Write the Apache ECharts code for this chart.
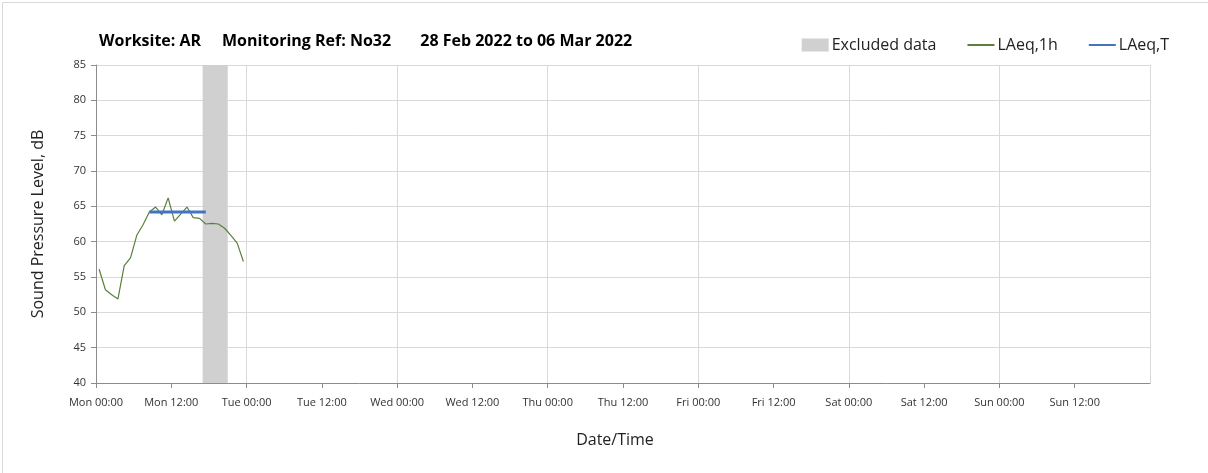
<!DOCTYPE html>
<html>
<head>
<meta charset="utf-8">
<script src="https://cdn.jsdelivr.net/npm/echarts@6/dist/echarts.min.js"></script>
<style>
  html, body { margin: 0; padding: 0; background: #fff; }
  #chart { width: 1208px; height: 473px; }
</style>
</head>
<body>
<div id="chart"></div>
<script>
// hours from Mon 00:00, hourly values plotted at the middle of each hour
var hours = [0.5, 1.5, 2.5, 3.5, 4.5, 5.5, 6.5, 7.5, 8.5, 9.5, 10.5, 11.5,
             12.5, 13.5, 14.5, 15.5, 16.5, 17.5, 18.5, 19.5, 20.5, 21.5, 22.5, 23.5];
var laeq1h = [56.1, 53.2, 52.5, 51.9, 56.6, 57.7, 60.9, 62.4, 64.2, 64.9, 63.8, 66.2,
              62.9, 63.9, 64.9, 63.4, 63.3, 62.5, 62.6, 62.5, 61.9, 60.9, 59.8, 57.2];
// LAeq,T over the period
var laeqTStart = 8.5;
var laeqTEnd = 17.5;
var laeqT = 64.2;
// excluded data period (hours)
var excludedStart = 17;
var excludedEnd = 21;
var dayNames = ['Mon', 'Tue', 'Wed', 'Thu', 'Fri', 'Sat', 'Sun'];

var font = '"Open Sans", Lato, sans-serif';

var chart = echarts.init(document.getElementById('chart'));

var option = {
    animation: false,
    textStyle: { fontFamily: font },
    title: {
        text: 'Worksite: AR     Monitoring Ref: No32       28 Feb 2022 to 06 Mar 2022',
        left: 94,
        top: 28,
        textStyle: { fontSize: 16, fontWeight: 'bold', color: '#000', fontFamily: font }
    },
    legend: {
        right: 34,
        top: 32,
        itemWidth: 27,
        itemHeight: 13,
        itemGap: 30,
        textStyle: { fontSize: 16, color: '#222', fontFamily: font, padding: [0, 0, 0, -2] },
        data: [
            { name: 'Excluded data', icon: 'rect' },
            { name: 'LAeq,1h', itemStyle: { opacity: 0 } },
            { name: 'LAeq,T', itemStyle: { opacity: 0 } }
        ]
    },
    graphic: [{
        type: 'rect',
        left: 0, top: 0,
        shape: { width: 1207, height: 472 },
        style: { fill: 'none', stroke: '#d9d9d9', lineWidth: 1 },
        silent: true
    }],
    grid: { left: 96, right: 58, top: 65, bottom: 90 },
    xAxis: [{
        type: 'value',
        min: 0,
        max: 168,
        interval: 12,
        name: 'Date/Time',
        nameLocation: 'middle',
        nameGap: 49,
        nameTextStyle: { fontSize: 16, color: '#222', padding: [0, 16, 0, 0] },
        axisLine: { lineStyle: { color: '#8c8c8c' } },
        axisTick: { show: true, length: 5, lineStyle: { color: '#8c8c8c' } },
        splitLine: { show: false },
        axisLabel: {
            fontSize: 11,
            color: '#333',
            margin: 14,
            showMaxLabel: false,
            formatter: function (v) {
                if (v >= 168) return '';
                var d = dayNames[Math.floor(v / 24)];
                return d + ' ' + (v % 24 === 0 ? '00:00' : '12:00');
            }
        }
    }, {
        type: 'value',
        min: 0,
        max: 168,
        interval: 24,
        position: 'bottom',
        axisLine: { show: false },
        axisTick: { show: false },
        axisLabel: { show: false },
        splitLine: { show: true, lineStyle: { color: '#d9d9d9', width: 1 } }
    }],
    yAxis: {
        type: 'value',
        min: 40,
        max: 85,
        interval: 5,
        name: 'Sound Pressure Level, dB',
        nameLocation: 'middle',
        nameGap: 50,
        nameTextStyle: { fontSize: 16, color: '#222' },
        axisLine: { show: true, lineStyle: { color: '#8c8c8c' } },
        axisTick: { show: true, length: 5, lineStyle: { color: '#8c8c8c' } },
        axisLabel: { fontSize: 11, color: '#333', margin: 10 },
        splitLine: { lineStyle: { color: '#d9d9d9', width: 1 } }
    },
    series: [{
        name: 'Excluded data',
        type: 'line',
        data: [],
        itemStyle: { color: '#d0d0d0' },
        markArea: {
            silent: true,
            itemStyle: { color: '#d0d0d0' },
            data: [[{ xAxis: excludedStart }, { xAxis: excludedEnd }]]
        }
    }, {
        name: 'LAeq,1h',
        type: 'line',
        symbol: 'none',
        z: 3,
        lineStyle: { color: '#5b7f3c', width: 1.2 },
        itemStyle: { color: '#5b7f3c' },
        data: hours.map(function (h, i) { return [h, laeq1h[i]]; })
    }, {
        name: 'LAeq,T',
        type: 'line',
        symbol: 'none',
        z: 4,
        lineStyle: { color: '#4472c4', width: 3 },
        itemStyle: { color: '#4472c4' },
        data: [[laeqTStart, laeqT], [laeqTEnd, laeqT]]
    }]
};

chart.setOption(option);
</script>
</body>
</html>
